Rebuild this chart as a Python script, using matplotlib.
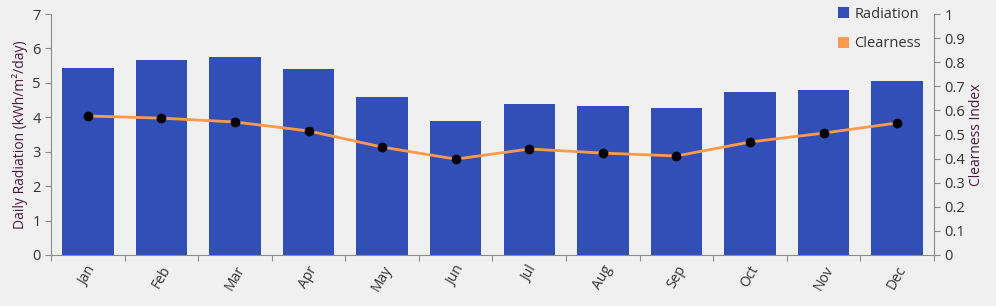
import matplotlib
matplotlib.use("Agg")
import matplotlib.pyplot as plt
import numpy as np
from matplotlib.patches import Patch

months = ["Jan", "Feb", "Mar", "Apr", "May", "Jun", "Jul", "Aug", "Sep", "Oct", "Nov", "Dec"]
radiation = [5.43, 5.66, 5.75, 5.40, 4.59, 3.89, 4.39, 4.33, 4.27, 4.73, 4.79, 5.05]
clearness = [0.577, 0.568, 0.552, 0.515, 0.448, 0.398, 0.440, 0.423, 0.411, 0.469, 0.506, 0.548]

plt.rcParams['font.family'] = ['Open Sans', 'DejaVu Sans']
bg = "#f0f0f0"
bar_color = "#324fb8"
line_color = "#ff9a4d"
label_color = "#4a1a3e"
tick_color = "#333333"
spine_color = "#8c8c8c"

fig = plt.figure(figsize=(9.96, 3.06), dpi=100, facecolor=bg)
ax = fig.add_axes([0.0512, 0.1667, 0.8865, 0.7873])
ax.set_facecolor(bg)
x = np.arange(len(months))
ax.bar(x, radiation, width=0.7, color=bar_color, zorder=2)
ax.set_xlim(-0.5, len(months) - 0.5)
ax.set_ylim(0, 7)
ax.set_yticks(range(0, 8))
ax.set_xticks(np.arange(-0.5, len(months), 1.0))
ax.set_xticklabels([])
ax.set_xticks(x, minor=True)
ax.set_xticklabels(months, minor=True, rotation=60, ha="center", va="top")
ax.tick_params(axis="x", which="minor", length=0, pad=6, labelsize=10, labelcolor=tick_color)
ax.tick_params(axis="x", which="major", length=4, color=spine_color)
ax.tick_params(axis="y", length=4, color=spine_color, labelsize=10.5, labelcolor=tick_color)
ax.set_ylabel("Daily Radiation (kWh/m²/day)", color=label_color, fontsize=10, labelpad=3)
for s in ["top", "right"]:
    ax.spines[s].set_visible(False)
for s in ["left", "bottom"]:
    ax.spines[s].set_color(spine_color)

ax2 = ax.twinx()
ax2.plot(x, clearness, color=line_color, lw=2, zorder=3)
ax2.plot(x, clearness, "o", color="black", ms=6, zorder=4)
ax2.set_ylim(0, 1)
ax2.set_yticks(np.round(np.arange(0, 1.01, 0.1), 1))
ax2.set_yticklabels(["0", "0.1", "0.2", "0.3", "0.4", "0.5", "0.6", "0.7", "0.8", "0.9", "1"])
ax2.tick_params(axis="y", length=4, color=spine_color, labelsize=10.5, labelcolor=tick_color)
ax2.set_ylabel("Clearness Index", color=label_color, fontsize=10, labelpad=3)
for s in ["top", "left", "bottom"]:
    ax2.spines[s].set_visible(False)
ax2.spines["right"].set_color(spine_color)

handles = [Patch(facecolor=bar_color, label="Radiation"), Patch(facecolor=line_color, label="Clearness")]
leg = ax2.legend(handles=handles, loc="upper right", bbox_to_anchor=(1.0, 1.085), frameon=False,
                 fontsize=10.5, handlelength=0.75, handleheight=0.75, handletextpad=0.35, labelspacing=1.0)
for t in leg.get_texts():
    t.set_color(tick_color)

fig.savefig("out.png", dpi=100, facecolor=bg)
